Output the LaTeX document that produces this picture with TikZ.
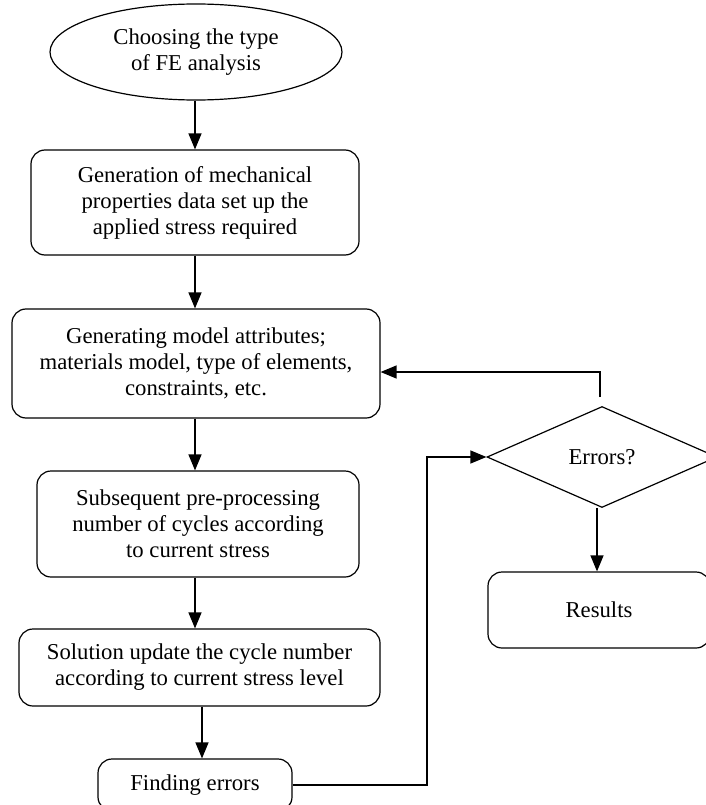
\documentclass[tikz,border=0pt]{standalone}
\usepackage{fontspec}
\setmainfont{Liberation Serif}
\usetikzlibrary{arrows.meta,positioning,shapes.geometric}

\begin{document}
\begin{tikzpicture}[x=1pt,y=-1pt,
    line width=1.3pt,
    every node/.style={font=\fontsize{22.7}{26}\selectfont, align=center, inner sep=0pt},
    box/.style={draw, rounded corners=14pt, line width=1.2pt},
    term/.style={draw, ellipse, line width=1.2pt},
    decision/.style={draw, diamond, line width=1.2pt},
    arr/.style={-{Triangle[length=16pt,width=13pt]}}]
    \useasboundingbox (0,0) rectangle (706,805);
    \clip (0,0) rectangle (706,805);
    % Main column
    \node[term, minimum width=292pt, minimum height=96pt] (start) at (196,52) {Choosing the type\\of FE analysis};
    \node[box, minimum width=328pt, minimum height=105pt] (gen) at (195,202.5) {Generation of mechanical\\properties data set up the\\applied stress required};
    \node[box, minimum width=368pt, minimum height=109pt] (attr) at (196,363.5) {Generating model attributes;\\materials model, type of elements,\\constraints, etc.};
    \node[box, minimum width=322pt, minimum height=106pt] (pre) at (198,524) {Subsequent pre-processing\\number of cycles according\\to current stress};
    \node[box, minimum width=361pt, minimum height=77pt] (sol) at (199.5,667.5) {Solution update the cycle number\\according to current stress level};
    \node[box, minimum width=194pt, minimum height=52pt] (find) at (195,785) {Finding errors};
    % Right column
    \node[decision, minimum width=230pt, minimum height=101pt] (err) at (602,457) {Errors?};
    \node[box, minimum width=222pt, minimum height=76pt] (res) at (599,610) {Results};
    % Connectors
    \coordinate (axis) at (195,0);
    \draw[arr] (start.south -| axis) -- (gen.north -| axis);
    \draw[arr] (gen.south -| axis) -- (attr.north -| axis);
    \draw[arr] (attr.south -| axis) -- (pre.north -| axis);
    \draw[arr] (pre.south -| axis) -- (sol.north -| axis);
    \coordinate (axis2) at (202,0);
    \draw[arr] (sol.south -| axis2) -- (find.north -| axis2);
    \coordinate (axis3) at (597,0);
    \draw[arr] (err.south -| axis3) -- (res.north -| axis3);
    % Feedback loop
    \coordinate (fb) at (600,397);
    \coordinate (fbtop) at (600,372);
    \draw[arr] (fb) -- (fbtop) -- (attr.east |- fbtop);
    \coordinate (turn) at (427,457);
    \draw[arr] (find.east) -| (turn) -- (err.west);
\end{tikzpicture}
\end{document}
